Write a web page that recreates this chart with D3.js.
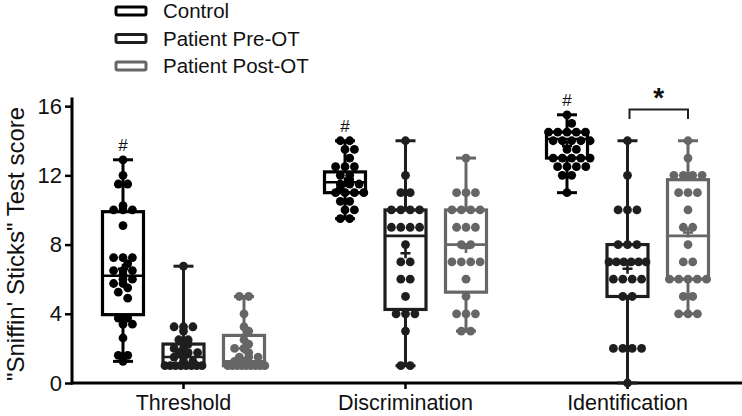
<!DOCTYPE html>
<html><head><meta charset="utf-8">
<script src="https://cdn.jsdelivr.net/npm/d3@7"></script>
<style>body{margin:0;background:#fff}svg{display:block}text{font-family:Arial,"Liberation Sans",sans-serif}</style>
</head><body><svg id="c" width="742" height="416"></svg>
<script>
const categories = ["Threshold", "Discrimination", "Identification"];
const groups = ["Control", "Patient Pre-OT", "Patient Post-OT"];
const groupColors = ["#000000", "#1e1e1e", "#666666"];
const yTicks = [0, 4, 8, 12, 16];

// individual scores [Threshold, Discrimination, Identification]
const controlValues = [
  [12.9, 12, 11.5, 11.5, 10.25, 10, 10, 10, 9.1, 7.25, 7.25, 7.25, 6.9, 6.5, 6.5, 6.5, 6.25, 6, 6, 5.75, 5.75, 5.5, 5.25, 4.9, 3.75, 3.75, 3.4, 3.4, 2.6, 1.6, 1.6, 1.25],
  [14, 14, 13.5, 13.5, 13, 12.5, 12.5, 12.5, 12, 12, 11.75, 11.5, 11.5, 11.5, 11.25, 11, 11, 11, 11, 10.5, 10.5, 10, 10, 9.5, 9.5],
  [15.5, 15, 14.5, 14.5, 14.5, 14.5, 14.5, 14, 14, 14, 14, 14, 13.5, 13.5, 13, 13, 13, 13, 13, 12.5, 12.5, 12.5, 12.5, 12, 12, 11]
];
const preValues = [
  [6.75, 3.25, 3.25, 3.25, 3, 2.5, 2.5, 2.25, 2, 2, 1.75, 1.75, 1.75, 1.5, 1.5, 1.25, 1.25, 1, 1, 1, 1, 1, 1, 1, 1],
  [14, 12, 11, 11, 10, 10, 10, 10, 9, 9, 9, 9, 8, 7, 7, 6, 6, 5, 4, 4, 4, 3, 1, 1],
  [14, 12, 10, 10, 10, 8, 8, 8, 7, 7, 7, 7, 7, 7, 6, 6, 6, 6, 5, 5, 2, 2, 2, 2, 0]
];
const postValues = [
  [5, 5, 4, 3.25, 3, 2.5, 2.25, 2, 2, 1.75, 1.5, 1.5, 1.5, 1.25, 1.25, 1, 1, 1, 1, 1, 1, 1, 1, 1],
  [13, 11, 11, 11, 10, 10, 10, 10, 9, 9, 9, 8, 8, 7, 7, 7, 7, 6, 5, 4, 4, 4, 3, 3],
  [14, 13, 12, 12, 12, 12, 11, 11, 11, 10, 9, 9, 8, 7, 7, 6, 6, 6, 6, 6, 5, 5, 4, 4, 4]
];
// box stats [min, q1, median, q3, max, mean]
const controlBox = [[1.25, 3.95, 6.2, 9.9, 12.9, 6.6], [9.5, 11, 11.6, 12.2, 14, 11.6], [11, 13, 14.1, 14.5, 15.5, 13.7]];
const preBox = [[1, 1, 1.5, 2.25, 6.75, 1.75], [1, 4.25, 8.5, 10, 14, 7.5], [0, 5, 7, 8, 14, 6.6]];
const postBox = [[1, 1, 1.25, 2.75, 5, 2.0], [3, 5.25, 8, 10, 13, 7.8], [4, 6, 8.5, 11.75, 14, 8.7]];

const allValues = [controlValues, preValues, postValues];
const allBox = [controlBox, preBox, postBox];

const svg = d3.select("#c");
const groupOffset = d3.scalePoint().domain(groups).range([-60, 61]);
const y = d3.scaleLinear().domain([0, 16.5]).range([383, 97.5]);
const xScale = d3.scalePoint().domain(categories).range([183, 627]);

// axes
const yAxis = svg.append("g").attr("transform", "translate(72,0)")
  .call(d3.axisLeft(y).tickValues(yTicks).tickSize(7).tickPadding(3));
yAxis.select(".domain").attr("stroke-width", 3).attr("d", `M0,${y(16.5)}V${y(0)+1.5}`);
yAxis.selectAll(".tick line").attr("stroke-width", 2.5);
yAxis.selectAll(".tick text").attr("font-size", 22).attr("fill", "#111");

const xAxis = svg.append("g").attr("transform", `translate(0,${y(0)})`)
  .call(d3.axisBottom(xScale).tickSize(6).tickPadding(6));
xAxis.select(".domain").attr("stroke-width", 3).attr("d", "M70.5,0H742");
xAxis.selectAll(".tick line").attr("stroke-width", 2.5);
xAxis.selectAll(".tick text").attr("font-size", 21.5).attr("fill", "#111");

svg.append("text").attr("transform", "translate(24,244) rotate(-90)")
  .attr("text-anchor", "middle").attr("font-size", 24).attr("fill", "#111")
  .text("\"Sniffin' Sticks\" Test score");

const boxW = 41, capW = 20, r = 4.4, sp = 9.4;

function swarm(vals) {
  const rows = d3.groups(vals, v => v).sort((a, b) => b[0] - a[0]);
  const pts = [];
  let prev = [];
  rows.forEach(([v, arr]) => {
    const n = arr.length;
    const s = n > 1 ? Math.min(sp, (boxW - 4) / (n - 1)) : sp;
    let best = null, bestScore = Infinity;
    [0, s / 2, -s / 2].forEach(shift => {
      const xs = arr.map((_, i) => (i - (n - 1) / 2) * s + shift);
      let score = Math.abs(shift) * 0.01;
      xs.forEach(xx => prev.forEach(p => {
        const d = Math.hypot(xx - p.dx, y(v) - y(p.v));
        if (d < 2 * r) score += (2 * r - d);
      }));
      if (score < bestScore) { bestScore = score; best = xs; }
    });
    best.forEach(dx => pts.push({ v, dx }));
    prev = pts.filter(p => Math.abs(y(p.v) - y(v)) < 2 * r + 1);
  });
  return pts;
}

groups.forEach((g, gi) => {
  const col = groupColors[gi];
  categories.forEach((c, ci) => {
    const cx = xScale(c) + groupOffset(g);
    const [mn, q1, md, q3, mx, mean] = allBox[gi][ci];
    const gg = svg.append("g").attr("stroke", col).attr("fill", "none");
    gg.append("line").attr("x1", cx).attr("x2", cx).attr("y1", y(mx)).attr("y2", y(q3)).attr("stroke-width", 3);
    gg.append("line").attr("x1", cx).attr("x2", cx).attr("y1", y(q1)).attr("y2", y(mn)).attr("stroke-width", 3);
    gg.append("line").attr("x1", cx - capW / 2).attr("x2", cx + capW / 2).attr("y1", y(mx)).attr("y2", y(mx)).attr("stroke-width", 3);
    gg.append("line").attr("x1", cx - capW / 2).attr("x2", cx + capW / 2).attr("y1", y(mn)).attr("y2", y(mn)).attr("stroke-width", 3);
    gg.append("rect").attr("x", cx - boxW / 2).attr("y", y(q3)).attr("width", boxW)
      .attr("height", Math.max(1, y(q1) - y(q3))).attr("stroke-width", 3.2);
    gg.append("line").attr("x1", cx - boxW / 2).attr("x2", cx + boxW / 2).attr("y1", y(md)).attr("y2", y(md)).attr("stroke-width", 2.6);
    const pts = swarm(allValues[gi][ci]);
    svg.append("g").selectAll("circle").data(pts).join("circle")
      .attr("cx", d => cx + d.dx).attr("cy", d => y(d.v)).attr("r", r).attr("fill", col);
    svg.append("path").attr("d", `M${cx - 5},${y(mean)}H${cx + 5}M${cx},${y(mean) - 5}V${y(mean) + 5}`)
      .attr("stroke", col).attr("stroke-width", 2.6);
  });
  if (gi === 0) {
    categories.forEach((c, ci) => {
      svg.append("text").attr("x", xScale(c) + groupOffset(g)).attr("y", y(controlBox[ci][4]) - 9)
        .attr("text-anchor", "middle").attr("font-size", 17).attr("fill", "#111").text("#");
    });
  }
});

// significance bracket in Identification between Pre and Post
const bx1 = xScale("Identification") + groupOffset("Patient Pre-OT") + 2;
const bx2 = xScale("Identification") + groupOffset("Patient Post-OT");
svg.append("path").attr("d", `M${bx1},119V109.5H${bx2}V119`).attr("fill", "none")
  .attr("stroke", "#222").attr("stroke-width", 2);
svg.append("text").attr("x", (bx1 + bx2) / 2).attr("y", 107).attr("text-anchor", "middle")
  .attr("font-size", 28).attr("font-weight", "bold").attr("fill", "#111").text("*");

// legend
const leg = svg.append("g");
groups.forEach((g, gi) => {
  const ly = 11 + gi * 27.5;
  leg.append("rect").attr("x", 116).attr("y", ly - 4).attr("width", 30).attr("height", 8).attr("rx", 1.5)
    .attr("fill", "#fff").attr("stroke", groupColors[gi]).attr("stroke-width", 3);
  leg.append("text").attr("x", 163).attr("y", ly).attr("dy", "0.35em").attr("font-size", 20.5)
    .attr("fill", "#111").text(g);
});
</script></body></html>
